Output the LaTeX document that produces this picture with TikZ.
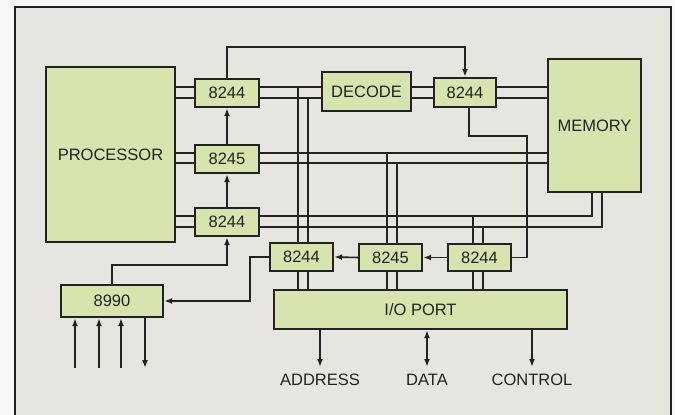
\documentclass[tikz,border=0pt]{standalone}
\usepackage{fontspec}
\setmainfont{Liberation Sans}
\usetikzlibrary{arrows.meta}

\definecolor{boxgreen}{HTML}{D7E4AE}
\definecolor{paper}{HTML}{E7E5E0}
\definecolor{ink}{HTML}{222222}

\begin{document}
\begin{tikzpicture}[x=1pt,y=-1pt]
\tikzset{
  chip/.style={draw=ink,line width=2.4pt,fill=boxgreen,inner sep=0pt,text=ink,font=\fontsize{16.5}{18}\selectfont},
  bus/.style={draw=ink,line width=1.6pt},
  sig/.style={draw=ink,line width=1.6pt,-{Latex[length=8pt,width=6pt]}},
  twosig/.style={draw=ink,line width=1.6pt,{Latex[length=8pt,width=6pt]}-{Latex[length=8pt,width=6pt]}},
  plain/.style={draw=ink,line width=1.6pt},
  lbl/.style={anchor=north,inner xsep=0pt,inner ysep=7pt,text=ink,font=\fontsize{16.5}{18}\selectfont}
}
\useasboundingbox (0,0) rectangle (675,415);
\fill[white!70!paper] (0,0) rectangle (675,415);
\draw[ink,line width=1.4pt,fill=paper] (15,7) rectangle (671,430);

% chips
\node[chip,minimum width=129pt,minimum height=175pt] (n_cpu) at (110.5,154.5) {PROCESSOR};
\node[chip,minimum width=64pt,minimum height=28pt] (n_b1) at (227,93) {8244};
\node[chip,minimum width=64pt,minimum height=28pt] (n_b2) at (227,159) {8245};
\node[chip,minimum width=64pt,minimum height=28pt] (n_b3) at (227,222) {8244};
\node[chip,minimum width=89pt,minimum height=39pt] (n_dec) at (366.5,91.5) {DECODE};
\node[chip,minimum width=62pt,minimum height=29pt] (n_b4) at (465,92.5) {8244};
\node[chip,minimum width=93pt,minimum height=133pt] (n_mem) at (594.5,125.5) {MEMORY};
\node[chip,minimum width=63pt,minimum height=28pt] (n_b5) at (301.5,257) {8244};
\node[chip,minimum width=63pt,minimum height=27pt] (n_b6) at (390.5,257.5) {8245};
\node[chip,minimum width=63pt,minimum height=27pt] (n_b7) at (479.5,257.5) {8244};
\node[chip,minimum width=293pt,minimum height=39pt] (n_io) at (420.5,309.5) {I/O PORT};
\node[chip,minimum width=102pt,minimum height=32pt] (n_ctl) at (112,301) {8990};

% bus rows and columns
\coordinate (r_a1) at (0,87);
\coordinate (r_a2) at (0,98);
\coordinate (r_b1) at (0,153);
\coordinate (r_b2) at (0,163);
\coordinate (r_c1) at (0,216);
\coordinate (r_c2) at (0,227);
\coordinate (c_a1) at (298,0);
\coordinate (c_a2) at (308,0);
\coordinate (c_b1) at (387,0);
\coordinate (c_b2) at (397,0);
\coordinate (c_c1) at (473,0);
\coordinate (c_c2) at (483,0);
\coordinate (c_m1) at (592,0);
\coordinate (c_m2) at (602,0);

% upper bus
\draw[bus] (n_cpu.east |- r_a1) -- (n_b1.west |- r_a1);
\draw[bus] (n_cpu.east |- r_a2) -- (n_b1.west |- r_a2);
\draw[bus] (n_b1.east |- r_a1) -- (n_dec.west |- r_a1);
\draw[bus] (n_b1.east |- r_a2) -- (n_dec.west |- r_a2);
\draw[bus] (n_dec.east |- r_a1) -- (n_b4.west |- r_a1);
\draw[bus] (n_dec.east |- r_a2) -- (n_b4.west |- r_a2);
\draw[bus] (n_b4.east |- r_a1) -- (n_mem.west |- r_a1);
\draw[bus] (n_b4.east |- r_a2) -- (n_mem.west |- r_a2);
\draw[bus] (c_a1 |- r_a1) -- (c_a1 |- n_b5.north);
\draw[bus] (c_a2 |- r_a2) -- (c_a2 |- n_b5.north);
\draw[bus] (c_a1 |- n_b5.south) -- (c_a1 |- n_io.north);
\draw[bus] (c_a2 |- n_b5.south) -- (c_a2 |- n_io.north);

% middle bus
\draw[bus] (n_cpu.east |- r_b1) -- (n_b2.west |- r_b1);
\draw[bus] (n_cpu.east |- r_b2) -- (n_b2.west |- r_b2);
\draw[bus] (n_b2.east |- r_b1) -- (n_mem.west |- r_b1);
\draw[bus] (n_b2.east |- r_b2) -- (n_mem.west |- r_b2);
\draw[bus] (c_b1 |- r_b1) -- (c_b1 |- n_b6.north);
\draw[bus] (c_b2 |- r_b2) -- (c_b2 |- n_b6.north);
\draw[bus] (c_b1 |- n_b6.south) -- (c_b1 |- n_io.north);
\draw[bus] (c_b2 |- n_b6.south) -- (c_b2 |- n_io.north);

% lower bus
\draw[bus] (n_cpu.east |- r_c1) -- (n_b3.west |- r_c1);
\draw[bus] (n_cpu.east |- r_c2) -- (n_b3.west |- r_c2);
\draw[bus] (n_b3.east |- r_c1) -- (c_m1 |- r_c1) -- (c_m1 |- n_mem.south);
\draw[bus] (n_b3.east |- r_c2) -- (c_m2 |- r_c2) -- (c_m2 |- n_mem.south);
\draw[bus] (c_c1 |- r_c1) -- (c_c1 |- n_b7.north);
\draw[bus] (c_c2 |- r_c2) -- (c_c2 |- n_b7.north);
\draw[bus] (c_c1 |- n_b7.south) -- (c_c1 |- n_io.north);
\draw[bus] (c_c2 |- n_b7.south) -- (c_c2 |- n_io.north);

% control lines
\coordinate (r_top) at (0,47);
\coordinate (r_k) at (0,265);
\coordinate (c_k) at (250,0);
\coordinate (c_d) at (469,0);
\coordinate (r_d) at (0,136);
\coordinate (c_e) at (527,0);
\draw[sig] (n_b1.north) -- (n_b1.north |- r_top) -| (n_b4.north);
\draw[sig] (n_b2.north) -- (n_b1.south);
\draw[sig] (n_b3.north) -- (n_b2.south);
\draw[sig] (n_ctl.north) -- (n_ctl.north |- r_k) -| (n_b3.south);
\draw[sig] (n_b5.west) -- (c_k |- n_b5.west) |- (n_ctl.east);
\draw[sig] (n_b6.west) -- (n_b5.east);
\draw[sig] (n_b7.west) -- (n_b6.east);
\draw[plain] (c_d |- n_b4.south) -- (c_d |- r_d) -| (c_e |- n_b7.east) -- (n_b7.east);

% 8990 inputs and output
\coordinate (k_1) at (75,368);
\coordinate (k_2) at (99,368);
\coordinate (k_3) at (121,368);
\coordinate (k_4) at (145,368);
\draw[sig] (k_1) -- (k_1 |- n_ctl.south);
\draw[sig] (k_2) -- (k_2 |- n_ctl.south);
\draw[sig] (k_3) -- (k_3 |- n_ctl.south);
\draw[sig] (k_4 |- n_ctl.south) -- (k_4);

% port outputs
\node[lbl] (n_addr) at (320,367) {ADDRESS};
\node[lbl] (n_data) at (427,367) {DATA};
\node[lbl] (n_cont) at (532,367) {CONTROL};
\draw[sig] (n_io.south -| n_addr.north) -- (n_addr.north);
\draw[twosig] (n_io.south -| n_data.north) -- (n_data.north);
\draw[sig] (n_io.south -| n_cont.north) -- (n_cont.north);
\end{tikzpicture}
\end{document}
